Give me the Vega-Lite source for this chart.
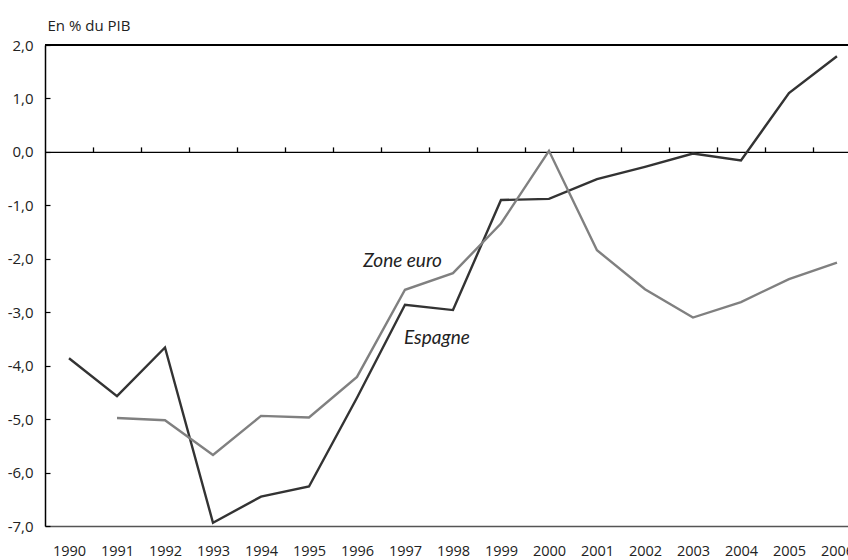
{
  "$schema": "https://vega.github.io/schema/vega-lite/v6.json",
  "autosize": {"type": "none"},
  "padding": {"left": 45, "top": 45, "right": 0, "bottom": 34},
  "width": 803,
  "height": 481,
  "background": "white",
  "config": {"view": {"stroke": null}, "font": "Open Sans", "axis": {"grid": false}},
  "datasets": {
    "series": [
      {"year": 1990, "value": -3.86, "series": "Espagne"},
      {"year": 1991, "value": -4.57, "series": "Espagne"},
      {"year": 1992, "value": -3.66, "series": "Espagne"},
      {"year": 1993, "value": -6.94, "series": "Espagne"},
      {"year": 1994, "value": -6.45, "series": "Espagne"},
      {"year": 1995, "value": -6.26, "series": "Espagne"},
      {"year": 1996, "value": -4.6, "series": "Espagne"},
      {"year": 1997, "value": -2.86, "series": "Espagne"},
      {"year": 1998, "value": -2.96, "series": "Espagne"},
      {"year": 1999, "value": -0.9, "series": "Espagne"},
      {"year": 2000, "value": -0.88, "series": "Espagne"},
      {"year": 2001, "value": -0.51, "series": "Espagne"},
      {"year": 2002, "value": -0.28, "series": "Espagne"},
      {"year": 2003, "value": -0.03, "series": "Espagne"},
      {"year": 2004, "value": -0.16, "series": "Espagne"},
      {"year": 2005, "value": 1.1, "series": "Espagne"},
      {"year": 2006, "value": 1.79, "series": "Espagne"},
      {"year": 1991, "value": -4.98, "series": "Zone euro"},
      {"year": 1992, "value": -5.02, "series": "Zone euro"},
      {"year": 1993, "value": -5.67, "series": "Zone euro"},
      {"year": 1994, "value": -4.94, "series": "Zone euro"},
      {"year": 1995, "value": -4.97, "series": "Zone euro"},
      {"year": 1996, "value": -4.21, "series": "Zone euro"},
      {"year": 1997, "value": -2.58, "series": "Zone euro"},
      {"year": 1998, "value": -2.27, "series": "Zone euro"},
      {"year": 1999, "value": -1.34, "series": "Zone euro"},
      {"year": 2000, "value": 0.02, "series": "Zone euro"},
      {"year": 2001, "value": -1.84, "series": "Zone euro"},
      {"year": 2002, "value": -2.57, "series": "Zone euro"},
      {"year": 2003, "value": -3.1, "series": "Zone euro"},
      {"year": 2004, "value": -2.81, "series": "Zone euro"},
      {"year": 2005, "value": -2.38, "series": "Zone euro"},
      {"year": 2006, "value": -2.07, "series": "Zone euro"}
    ],
    "labels": [
      {"year": 1996.13, "value": -2.04, "label": "Zone euro"},
      {"year": 1996.98, "value": -3.48, "label": "Espagne"}
    ]
  },
  "resolve": {"axis": {"x": "independent", "y": "independent"}},
  "layer": [
    {
      "data": {"name": "series"},
      "mark": {"type": "rule", "color": "black", "strokeWidth": 1.3},
      "encoding": {"y": {"datum": 2, "type": "quantitative", "axis": null}}
    },
    {
      "data": {"name": "series"},
      "mark": {"type": "point", "opacity": 0},
      "encoding": {
        "x": {
          "field": "year", "type": "quantitative",
          "scale": {"domain": [1989.5, 2006.23], "nice": false, "zero": false},
          "axis": {
            "orient": "top", "offset": -106.9, "title": null, "labels": false,
            "values": [1990.5, 1991.5, 1992.5, 1993.5, 1994.5, 1995.5, 1996.5, 1997.5, 1998.5, 1999.5, 2000.5, 2001.5, 2002.5, 2003.5, 2004.5, 2005.5],
            "ticks": true, "tickSize": 5, "tickColor": "black", "tickWidth": 1.3,
            "domainColor": "black", "domainWidth": 1.3
          }
        },
        "y": {"datum": 0, "type": "quantitative", "axis": null}
      }
    },
    {
      "data": {"name": "series"},
      "mark": {"type": "line", "strokeWidth": 2.4},
      "encoding": {
        "x": {
          "field": "year", "type": "quantitative",
          "scale": {"domain": [1989.5, 2006.23], "nice": false, "zero": false},
          "axis": {
            "orient": "bottom", "title": null, "format": "d",
            "values": [1990, 1991, 1992, 1993, 1994, 1995, 1996, 1997, 1998, 1999, 2000, 2001, 2002, 2003, 2004, 2005, 2006],
            "ticks": false, "tickSize": 0, "labelPadding": 18, "labelFontSize": 14.5,
            "labelColor": "#222222", "labelFlush": false, "labelOverlap": false,
            "domainColor": "#555555", "domainWidth": 1.6
          }
        },
        "y": {
          "field": "value", "type": "quantitative",
          "scale": {"domain": [-7, 2], "nice": false, "zero": false},
          "axis": {
            "orient": "left",
            "title": "En % du PIB", "titleAngle": 0, "titleAlign": "left", "titleBaseline": "alphabetic",
            "titleX": 2, "titleY": -15, "titleFontSize": 15, "titleFontWeight": "normal", "titleColor": "#222222",
            "values": [-7, -6, -5, -4, -3, -2, -1, 0, 1, 2],
            "labelExpr": "(datum.value < 0 ? '-' : '') + replace(format(abs(datum.value), '.1f'), '.', ',')",
            "labelFontSize": 15, "labelColor": "#222222", "labelPadding": 17, "labelFlush": false,
            "tickSize": -5, "tickColor": "black", "tickWidth": 1.2,
            "domainColor": "black", "domainWidth": 1.5
          }
        },
        "color": {
          "field": "series", "type": "nominal",
          "scale": {"domain": ["Espagne", "Zone euro"], "range": ["#333333", "#808080"]},
          "legend": null
        }
      }
    },
    {
      "data": {"name": "labels"},
      "mark": {"type": "text", "font": "Lato", "fontStyle": "italic", "fontSize": 19, "align": "left", "baseline": "middle", "color": "#222222"},
      "encoding": {
        "x": {"field": "year", "type": "quantitative", "axis": null},
        "y": {"field": "value", "type": "quantitative", "axis": null},
        "text": {"field": "label"}
      }
    }
  ]
}
